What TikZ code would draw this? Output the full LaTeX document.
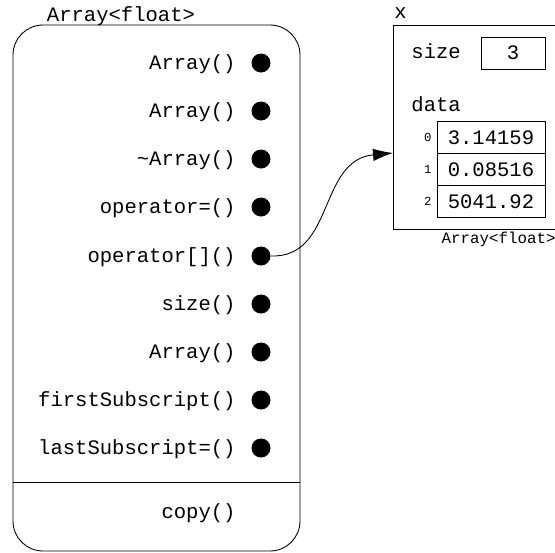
\documentclass[tikz,border=0pt]{standalone}
\usepackage{fontspec}
\setmonofont{Liberation Mono}
\usetikzlibrary{arrows.meta}

\tikzset{
  method/.style={anchor=base east},
  slotdot/.style={circle, fill=black, minimum size=0.38cm},
  cell/.style={draw, minimum width=2.16cm, minimum height=0.634cm},
  idx/.style={anchor=mid east, font=\ttfamily\fontsize{7}{8}\selectfont}
}

\begin{document}
\begin{tikzpicture}[x=0.02cm, y=-0.02cm, line width=0.5pt,
      every node/.style={font=\ttfamily\fontsize{11.7}{14}\selectfont, inner sep=0pt}]
    \useasboundingbox (0,0) rectangle (555,552);
    % ---- class box
    \draw[rounded corners=0.6cm] (13,25) rectangle (300,551);
    \draw (13,482) -- (300,482);
    \node[anchor=base] (cls) at (121,21) {Array<float>};
    \node[method] (m1) at (236,69)  {Array()};
    \node[method] (m2) at (236,117) {Array()};
    \node[method] (m3) at (236,165) {\textasciitilde Array()};
    \node[method] (m4) at (236,213) {operator=()};
    \node[method] (m5) at (236,262) {operator[]()};
    \node[method] (m6) at (236,310) {size()};
    \node[method] (m7) at (236,358) {Array()};
    \node[method] (m8) at (236,406) {firstSubscript()};
    \node[method] (m9) at (236,454) {lastSubscript=()};
    \node[method] (cp) at (236,518) {copy()};
    \node[slotdot] (d1) at (261,63)  {};
    \node[slotdot] (d2) at (261,111) {};
    \node[slotdot] (d3) at (261,159) {};
    \node[slotdot] (d4) at (261,207) {};
    \node[slotdot] (d5) at (261,256) {};
    \node[slotdot] (d6) at (261,304) {};
    \node[slotdot] (d7) at (261,352) {};
    \node[slotdot] (d8) at (261,400) {};
    \node[slotdot] (d9) at (261,448) {};
    % ---- object x
    \draw (393,25) rectangle (555.5,229);
    \node[anchor=base west] (xname) at (394,18) {x};
    \node[anchor=base west] (sizelbl) at (411,58) {size};
    \node[draw, minimum width=1.28cm, minimum height=0.64cm] (sizeval) at (513,53) {3};
    \node[anchor=base west] (datalbl) at (411,111) {data};
    \node[cell] (c0) at (491,137.5) {3.14159};
    \node[cell] (c1) at (491,169.5) {0.08516};
    \node[cell] (c2) at (491,201.5) {5041.92};
    \node[idx] (i0) at (432,137.5) {0};
    \node[idx] (i1) at (432,169.5) {1};
    \node[idx] (i2) at (432,201.5) {2};
    \node[anchor=mid east, font=\ttfamily\fontsize{9}{10}\selectfont] (xtype) at (556,240) {Array<float>};
    % ---- pointer
    \coordinate (tip) at (393,153);
    \draw[-{Latex[length=0.4cm, width=0.25cm]}] (d5.east) .. controls (335,258) and (318,160) .. (tip);
  \end{tikzpicture}
\end{document}
